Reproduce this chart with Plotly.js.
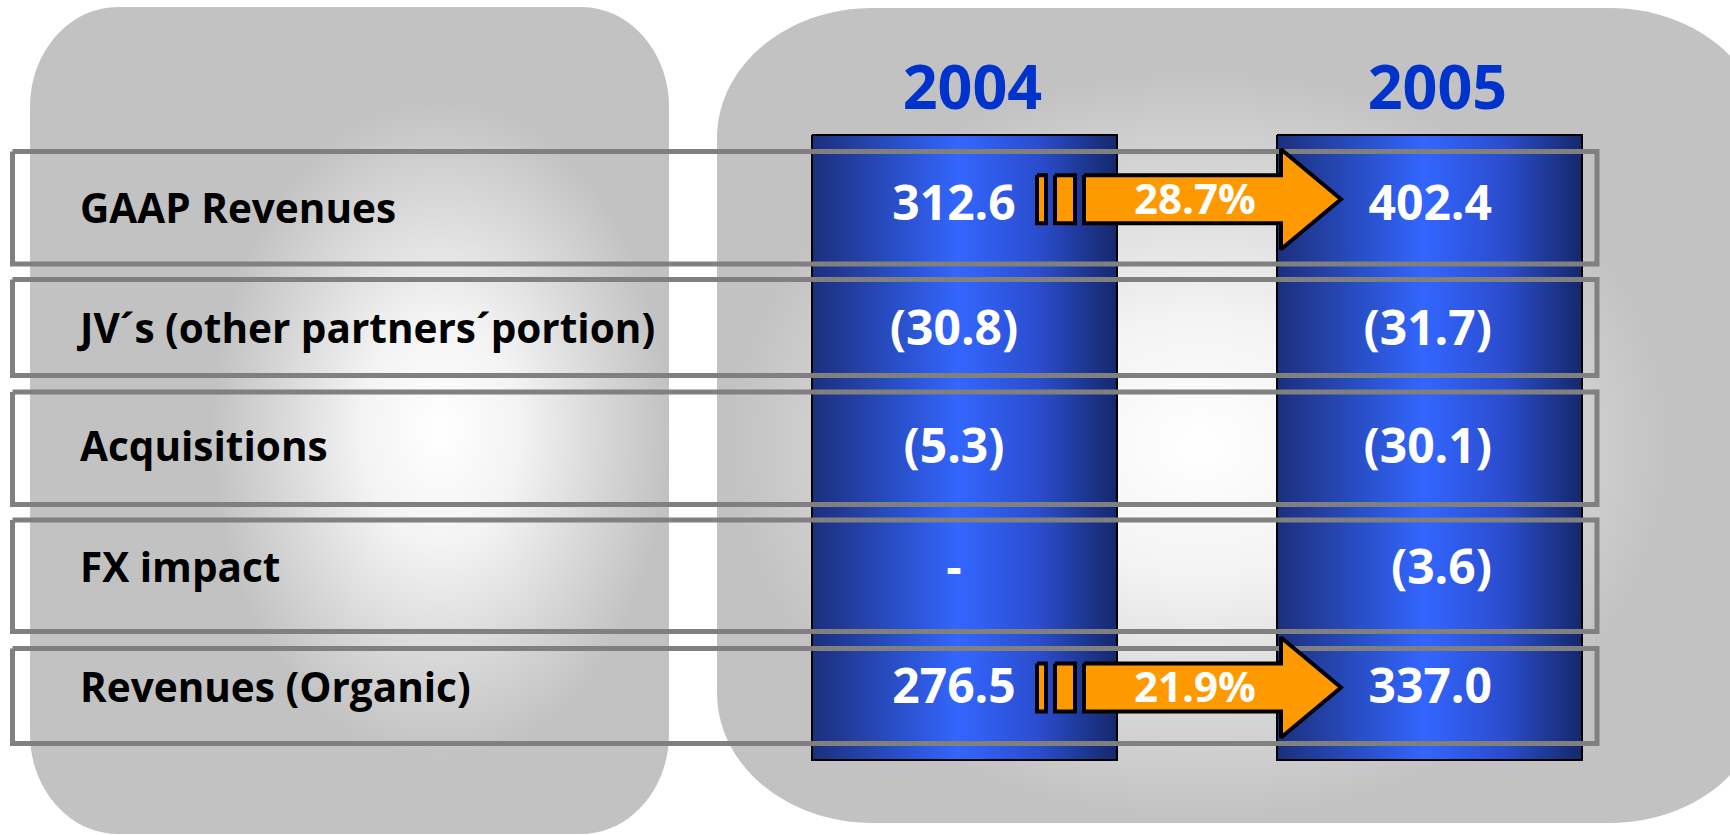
<!DOCTYPE html>
<html>
<head>
<meta charset="utf-8">
<script src="https://cdn.plot.ly/plotly-3.0.1.min.js"></script>
<style>
  html, body { margin: 0; padding: 0; background: #ffffff; }
  #chart { width: 1730px; height: 835px; }
</style>
</head>
<body>
<div id="chart"></div>
<script>
// table data
var rowLabels = ['GAAP Revenues', 'JV\u00B4s (other partners\u00B4portion)', 'Acquisitions', 'FX impact', 'Revenues (Organic)'];
var years = ['2004', '2005'];
var values2004 = [312.6, -30.8, -5.3, null, 276.5];
var values2005 = [402.4, -31.7, -30.1, -3.6, 337.0];
var growthRows = [0, 4]; // rows that carry a growth arrow

// page geometry (pixels, y down)
var W = 1730, H = 835;
var boxTop = [151.5, 279.5, 392, 520, 648.5];
var boxBottom = [264, 375.5, 504.5, 631.5, 743.5];
var boxLeft = 12.5, boxRight = 1597;
var labelY = [213, 333, 451, 572, 692];
var valueY = [208, 333, 451, 572, 691];
var labelX = 80;
var colLeft = [812, 1277], colWidth = 305, colTop = 135, colBottom = 760;
var yearY = 94;

// format a value like the slide: negatives in brackets, missing as dash
function fmt(v) {
  if (v === null) return '-';
  if (v < 0) return '(' + Math.abs(v).toFixed(1) + ')';
  return v.toFixed(1);
}

// growth from 2004 to 2005
function growth(i) {
  return ((values2005[i] / values2004[i] - 1) * 100).toFixed(1) + '%';
}

// rounded rectangle path with elliptic corners
function roundRect(x0, y0, x1, y1, rx, ry) {
  var k = 0.5523;
  return 'M' + (x0 + rx) + ',' + y0 +
    ' L' + (x1 - rx) + ',' + y0 +
    ' C' + (x1 - rx + k * rx) + ',' + y0 + ' ' + x1 + ',' + (y0 + ry - k * ry) + ' ' + x1 + ',' + (y0 + ry) +
    ' L' + x1 + ',' + (y1 - ry) +
    ' C' + x1 + ',' + (y1 - ry + k * ry) + ' ' + (x1 - rx + k * rx) + ',' + y1 + ' ' + (x1 - rx) + ',' + y1 +
    ' L' + (x0 + rx) + ',' + y1 +
    ' C' + (x0 + rx - k * rx) + ',' + y1 + ' ' + x0 + ',' + (y1 - ry + k * ry) + ' ' + x0 + ',' + (y1 - ry) +
    ' L' + x0 + ',' + (y0 + ry) +
    ' C' + x0 + ',' + (y0 + ry - k * ry) + ' ' + (x0 + rx - k * rx) + ',' + y0 + ' ' + (x0 + rx) + ',' + y0 + ' Z';
}

// white glow ellipse
function glow(cx, cy, rx, ry, edge) {
  var xs = [], ys = [];
  for (var a = 0; a <= 72; a++) {
    var t = a / 72 * 2 * Math.PI;
    xs.push(cx + rx * Math.cos(t));
    ys.push(cy + ry * Math.sin(t));
  }
  return {
    type: 'scatter', mode: 'none', x: xs, y: ys, fill: 'toself',
    fillgradient: {type: 'radial', colorscale: [[0, '#ffffff'], [0.35, '#f3f3f3'], [0.7, '#d8d8d8'], [1, edge]]},
    hoverinfo: 'skip', showlegend: false
  };
}

var traces = [];
var panelGray = '#c2c2c2';

traces.push(glow(440, 430, 229, 330, panelGray));
traces.push(glow(1200, 445, 470, 375, panelGray));

// blue year columns
for (var c = 0; c < years.length; c++) {
  var x0 = colLeft[c], x1 = colLeft[c] + colWidth;
  traces.push({
    type: 'scatter', mode: 'lines',
    x: [x0, x1, x1, x0, x0], y: [colTop, colTop, colBottom, colBottom, colTop],
    fill: 'toself',
    fillgradient: {type: 'horizontal', start: x0, stop: x1,
      colorscale: [[0, '#1b2f7c'], [0.48, '#3366ff'], [0.75, '#2a4ccc'], [1, '#15286a']]},
    line: {color: '#000000', width: 2},
    hoverinfo: 'skip', showlegend: false
  });
}

// grey row frames
for (var r = 0; r < rowLabels.length; r++) {
  traces.push({
    type: 'scatter', mode: 'lines',
    x: [boxLeft, boxRight, boxRight, boxLeft, boxLeft],
    y: [boxTop[r], boxTop[r], boxBottom[r], boxBottom[r], boxTop[r]],
    line: {color: '#808080', width: 5},
    hoverinfo: 'skip', showlegend: false
  });
}

// orange growth arrows
var growthX = [], growthY = [], growthText = [];
growthRows.forEach(function (r) {
  var cy = (boxTop[r] + boxBottom[r]) / 2 - 8.5;
  var bodyH = 24, headH = 50;
  var bars = [[1037, 1046], [1055, 1075]];
  bars.forEach(function (b) {
    traces.push({
      type: 'scatter', mode: 'lines',
      x: [b[0], b[1], b[1], b[0], b[0]],
      y: [cy - bodyH, cy - bodyH, cy + bodyH, cy + bodyH, cy - bodyH],
      fill: 'toself', fillcolor: '#ff9900', line: {color: '#000000', width: 4},
      hoverinfo: 'skip', showlegend: false
    });
  });
  var bx = 1084, hx = 1281, tx = 1341;
  traces.push({
    type: 'scatter', mode: 'lines',
    x: [bx, hx, hx, tx, hx, hx, bx, bx],
    y: [cy - bodyH, cy - bodyH, cy - headH, cy, cy + headH, cy + bodyH, cy + bodyH, cy - bodyH],
    fill: 'toself', fillcolor: '#ff9900', line: {color: '#000000', width: 4},
    hoverinfo: 'skip', showlegend: false
  });
  growthX.push(1195);
  growthY.push(cy + 4);
  growthText.push(growth(r));
});

// row labels
traces.push({
  type: 'scatter', mode: 'text',
  x: rowLabels.map(function () { return labelX; }), y: labelY,
  text: rowLabels, textposition: 'middle right',
  textfont: {family: 'Open Sans', size: 40.5, weight: 700, color: '#000000'},
  hoverinfo: 'skip', showlegend: false
});

// year headers
traces.push({
  type: 'scatter', mode: 'text',
  x: colLeft.map(function (x) { return x + colWidth / 2 + 8; }), y: [yearY, yearY],
  text: years, textposition: 'middle center',
  textfont: {family: 'Open Sans', size: 61, weight: 700, color: '#0033cc'},
  hoverinfo: 'skip', showlegend: false
});

// 2004 values (centred)
traces.push({
  type: 'scatter', mode: 'text',
  x: values2004.map(function () { return 954; }), y: valueY,
  text: values2004.map(fmt), textposition: 'middle center',
  textfont: {family: 'Open Sans', size: 48, weight: 700, color: '#ffffff'},
  hoverinfo: 'skip', showlegend: false
});

// 2005 values (right aligned)
traces.push({
  type: 'scatter', mode: 'text',
  x: values2005.map(function () { return 1492; }), y: valueY,
  text: values2005.map(fmt), textposition: 'middle left',
  textfont: {family: 'Open Sans', size: 48, weight: 700, color: '#ffffff'},
  hoverinfo: 'skip', showlegend: false
});

// growth percentages
traces.push({
  type: 'scatter', mode: 'text',
  x: growthX, y: growthY, text: growthText, textposition: 'middle center',
  textfont: {family: 'Open Sans', size: 42, weight: 700, color: '#ffffff'},
  hoverinfo: 'skip', showlegend: false
});

var layout = {
  width: W, height: H,
  margin: {l: 0, r: 0, t: 0, b: 0},
  paper_bgcolor: '#ffffff', plot_bgcolor: '#ffffff',
  xaxis: {range: [0, W], visible: false, fixedrange: true},
  yaxis: {range: [H, 0], visible: false, fixedrange: true},
  showlegend: false,
  shapes: [
    {type: 'path', xref: 'x', yref: 'y', layer: 'below', path: roundRect(30, 7, 669, 834, 88, 100),
      fillcolor: panelGray, line: {width: 0}},
    {type: 'path', xref: 'x', yref: 'y', layer: 'below', path: roundRect(717, 8, 1765, 823, 155, 130),
      fillcolor: panelGray, line: {width: 0}}
  ]
};

Plotly.newPlot('chart', traces, layout, {displayModeBar: false, staticPlot: true});
</script>
</body>
</html>
